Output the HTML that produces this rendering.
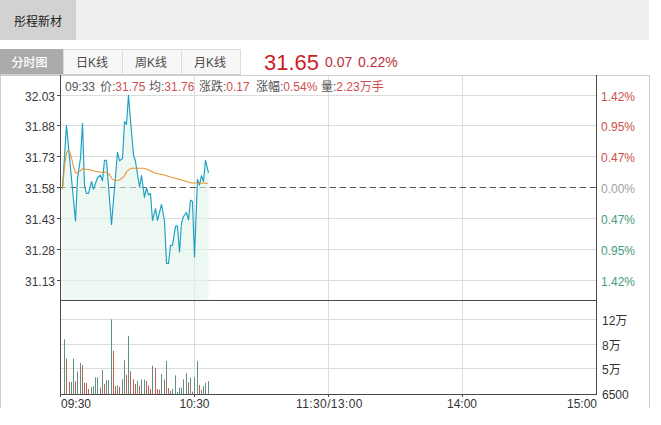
<!DOCTYPE html>
<html><head><meta charset="utf-8">
<style>
*{margin:0;padding:0;box-sizing:border-box}
html,body{width:661px;height:425px;background:#fff;overflow:hidden}
body{position:relative;font-family:"Liberation Sans","Noto Sans CJK SC",sans-serif;font-size:12px;color:#333}
.hdr{position:absolute;left:0;top:0;width:649px;height:40px;background:#efefef}
.stk{position:absolute;left:0;top:0;width:76px;height:40px;background:#d2d2d2;line-height:44px;text-align:center;color:#222;font-size:12px}
.tab{position:absolute;top:49px;height:26px;border:1px solid #dcdcdc;border-bottom-color:#cfcfcf;background:#f7f7f7;line-height:26px;text-align:center;color:#4a4a4a;padding-right:2px}
.tab.on{background:#ababab;color:#fff;font-weight:500;padding-right:4px;border-color:#ababab;border-bottom-color:#cfcfcf}
.box{position:absolute;left:0;top:75px;width:650px;height:333px;border:1px solid #cdcdcd;border-bottom:none}
.price{position:absolute;left:264px;top:49.5px;font-size:22px;color:#cc1f26;line-height:26px}
.chg{position:absolute;top:53px;font-size:14px;color:#b8323a;line-height:18px}
svg{position:absolute;left:0;top:0}
.info{position:absolute;top:79px;line-height:16px;color:#555;white-space:nowrap;word-spacing:1.5px}
.info .v{color:#cf5050}
.ll{position:absolute;right:606px;line-height:14px;color:#3a3a3a}
.rl{position:absolute;left:601px;line-height:14px}
.rl.r{color:#cc5148} .rl.z{color:#a0a0a0} .rl.g{color:#479b7a}
.vl{position:absolute;left:602px;line-height:14px;color:#333}
.tl{position:absolute;top:396px;line-height:16px;color:#333}
</style></head><body>
<div class="hdr"><div class="stk">彤程新材</div></div>
<div class="tab on" style="left:0;width:63px">分时图</div>
<div class="tab" style="left:63px;width:60px">日K线</div>
<div class="tab" style="left:122px;width:60px">周K线</div>
<div class="tab" style="left:181px;width:60px">月K线</div>
<div class="price">31.65</div>
<div class="chg" style="left:325px">0.07</div>
<div class="chg" style="left:358px">0.22%</div>
<div class="box"></div>
<svg width="661" height="425" viewBox="0 0 661 425" shape-rendering="auto">
<line x1="61" y1="95.5" x2="596" y2="95.5" stroke="#dcdcdc"/>
<line x1="61" y1="125.5" x2="596" y2="125.5" stroke="#dcdcdc"/>
<line x1="61" y1="156.5" x2="596" y2="156.5" stroke="#dcdcdc"/>
<line x1="61" y1="218.5" x2="596" y2="218.5" stroke="#dcdcdc"/>
<line x1="61" y1="249.5" x2="596" y2="249.5" stroke="#dcdcdc"/>
<line x1="61" y1="280.5" x2="596" y2="280.5" stroke="#dcdcdc"/>
<line x1="61" y1="319.5" x2="596" y2="319.5" stroke="#dcdcdc"/>
<line x1="61" y1="344.5" x2="596" y2="344.5" stroke="#dcdcdc"/>
<line x1="61" y1="368.5" x2="596" y2="368.5" stroke="#dcdcdc"/>
<line x1="194.5" y1="76" x2="194.5" y2="394" stroke="#dcdcdc"/>
<line x1="328.5" y1="76" x2="328.5" y2="394" stroke="#dcdcdc"/>
<line x1="462.5" y1="76" x2="462.5" y2="394" stroke="#dcdcdc"/>
<line x1="59.6" y1="187.5" x2="596" y2="187.5" stroke="#555" stroke-dasharray="6.5 3.5"/>
<polygon points="62.5,300.0 62.5,187.5 66.5,125.5 75.5,221.0 77.5,178.0 80.5,158.0 82.5,123.3 84.5,186.0 86.5,193.4 88.5,193.4 91.5,181.5 93.5,189.3 95.5,183.5 97.5,177.8 100.5,175.2 102.5,180.8 104.5,160.4 106.5,160.4 111.5,224.5 117.5,152.3 119.5,160.7 122.5,158.5 124.5,121.5 126.5,124.5 128.5,95.2 130.5,120.5 133.5,155.0 135.5,161.5 137.5,174.0 139.5,187.0 141.5,175.5 144.5,197.3 146.5,187.7 148.5,195.0 150.5,193.5 152.5,220.4 155.5,208.7 157.5,220.4 161.5,204.5 164.5,221.0 166.5,263.4 168.5,263.4 170.5,245.3 172.5,245.3 175.5,226.1 177.5,226.1 179.5,252.0 181.5,223.0 183.5,216.5 186.5,212.5 188.5,219.8 190.5,200.2 192.5,201.5 194.5,257.0 197.5,179.3 199.5,185.0 201.5,175.6 203.5,181.5 205.5,160.3 208.5,172.8 208.5,300.0" fill="#e1f3e9" fill-opacity="0.6"/>
<rect x="64" y="339.3" width="1" height="54.7" fill="#5f9082"/>
<rect x="66" y="358.7" width="1" height="35.3" fill="#bb5f58"/>
<rect x="69" y="382.0" width="1" height="12.0" fill="#bb5f58"/>
<rect x="71" y="382.0" width="1" height="12.0" fill="#5f9082"/>
<rect x="73" y="358.7" width="1" height="35.3" fill="#5f9082"/>
<rect x="75" y="381.2" width="1" height="12.8" fill="#bb5f58"/>
<rect x="77" y="371.6" width="1" height="22.4" fill="#5f9082"/>
<rect x="80" y="362.9" width="1" height="31.1" fill="#5f9082"/>
<rect x="82" y="365.3" width="1" height="28.7" fill="#bb5f58"/>
<rect x="84" y="382.7" width="1" height="11.3" fill="#bb5f58"/>
<rect x="86" y="383.0" width="1" height="11.0" fill="#bb5f58"/>
<rect x="88" y="388.9" width="1" height="5.1" fill="#bb5f58"/>
<rect x="91" y="387.0" width="1" height="7.0" fill="#5f9082"/>
<rect x="93" y="386.1" width="1" height="7.9" fill="#5f9082"/>
<rect x="95" y="377.3" width="1" height="16.7" fill="#5f9082"/>
<rect x="97" y="377.3" width="1" height="16.7" fill="#5f9082"/>
<rect x="100" y="387.7" width="1" height="6.3" fill="#bb5f58"/>
<rect x="102" y="369.8" width="1" height="24.2" fill="#5f9082"/>
<rect x="104" y="383.9" width="1" height="10.1" fill="#bb5f58"/>
<rect x="106" y="380.2" width="1" height="13.8" fill="#5f9082"/>
<rect x="108" y="380.2" width="1" height="13.8" fill="#5f9082"/>
<rect x="111" y="319.4" width="1" height="74.6" fill="#5f9082"/>
<rect x="113" y="350.9" width="1" height="43.1" fill="#bb5f58"/>
<rect x="115" y="386.2" width="1" height="7.8" fill="#bb5f58"/>
<rect x="117" y="385.4" width="1" height="8.6" fill="#5f9082"/>
<rect x="119" y="386.8" width="1" height="7.2" fill="#bb5f58"/>
<rect x="122" y="379.2" width="1" height="14.8" fill="#5f9082"/>
<rect x="124" y="360.3" width="1" height="33.7" fill="#5f9082"/>
<rect x="126" y="374.9" width="1" height="19.1" fill="#bb5f58"/>
<rect x="128" y="335.8" width="1" height="58.2" fill="#5f9082"/>
<rect x="130" y="371.1" width="1" height="22.9" fill="#bb5f58"/>
<rect x="133" y="379.2" width="1" height="14.8" fill="#bb5f58"/>
<rect x="135" y="383.9" width="1" height="10.1" fill="#bb5f58"/>
<rect x="137" y="380.8" width="1" height="13.2" fill="#5f9082"/>
<rect x="139" y="385.8" width="1" height="8.2" fill="#bb5f58"/>
<rect x="141" y="379.5" width="1" height="14.5" fill="#5f9082"/>
<rect x="144" y="379.7" width="1" height="14.3" fill="#5f9082"/>
<rect x="146" y="381.0" width="1" height="13.0" fill="#bb5f58"/>
<rect x="148" y="385.4" width="1" height="8.6" fill="#bb5f58"/>
<rect x="150" y="389.0" width="1" height="5.0" fill="#bb5f58"/>
<rect x="152" y="365.7" width="1" height="28.3" fill="#5f9082"/>
<rect x="155" y="368.3" width="1" height="25.7" fill="#bb5f58"/>
<rect x="157" y="389.0" width="1" height="5.0" fill="#bb5f58"/>
<rect x="159" y="389.7" width="1" height="4.3" fill="#bb5f58"/>
<rect x="161" y="374.0" width="1" height="20.0" fill="#5f9082"/>
<rect x="164" y="379.5" width="1" height="14.5" fill="#bb5f58"/>
<rect x="166" y="361.0" width="1" height="33.0" fill="#5f9082"/>
<rect x="168" y="388.0" width="1" height="6.0" fill="#bb5f58"/>
<rect x="170" y="391.0" width="1" height="3.0" fill="#bb5f58"/>
<rect x="172" y="389.0" width="1" height="5.0" fill="#5f9082"/>
<rect x="175" y="375.3" width="1" height="18.7" fill="#5f9082"/>
<rect x="177" y="392.0" width="1" height="2.0" fill="#5f9082"/>
<rect x="179" y="387.7" width="1" height="6.3" fill="#5f9082"/>
<rect x="181" y="387.7" width="1" height="6.3" fill="#5f9082"/>
<rect x="183" y="379.3" width="1" height="14.7" fill="#5f9082"/>
<rect x="186" y="373.2" width="1" height="20.8" fill="#5f9082"/>
<rect x="188" y="382.2" width="1" height="11.8" fill="#bb5f58"/>
<rect x="190" y="377.5" width="1" height="16.5" fill="#5f9082"/>
<rect x="192" y="391.6" width="1" height="2.4" fill="#bb5f58"/>
<rect x="194" y="377.5" width="1" height="16.5" fill="#5f9082"/>
<rect x="197" y="361.1" width="1" height="32.9" fill="#5f9082"/>
<rect x="199" y="385.0" width="1" height="9.0" fill="#bb5f58"/>
<rect x="201" y="389.8" width="1" height="4.2" fill="#bb5f58"/>
<rect x="203" y="386.1" width="1" height="7.9" fill="#5f9082"/>
<rect x="205" y="382.8" width="1" height="11.2" fill="#5f9082"/>
<rect x="208" y="381.1" width="1" height="12.9" fill="#5f9082"/>
<polyline points="62.5,187.5 66.5,125.5 75.5,221.0 77.5,178.0 80.5,158.0 82.5,123.3 84.5,186.0 86.5,193.4 88.5,193.4 91.5,181.5 93.5,189.3 95.5,183.5 97.5,177.8 100.5,175.2 102.5,180.8 104.5,160.4 106.5,160.4 111.5,224.5 117.5,152.3 119.5,160.7 122.5,158.5 124.5,121.5 126.5,124.5 128.5,95.2 130.5,120.5 133.5,155.0 135.5,161.5 137.5,174.0 139.5,187.0 141.5,175.5 144.5,197.3 146.5,187.7 148.5,195.0 150.5,193.5 152.5,220.4 155.5,208.7 157.5,220.4 161.5,204.5 164.5,221.0 166.5,263.4 168.5,263.4 170.5,245.3 172.5,245.3 175.5,226.1 177.5,226.1 179.5,252.0 181.5,223.0 183.5,216.5 186.5,212.5 188.5,219.8 190.5,200.2 192.5,201.5 194.5,257.0 197.5,179.3 199.5,185.0 201.5,175.6 203.5,181.5 205.5,160.3 208.5,172.8" fill="none" stroke="#1c9fc3" stroke-width="1.15" stroke-linejoin="round"/>
<polyline points="62.5,189.0 64.5,166.0 66.5,153.5 68.0,150.5 69.5,151.5 71.5,158.0 73.5,167.0 75.5,172.5 77.5,173.5 80.5,170.5 82.5,168.8 89.7,169.8 95.3,171.3 101.0,172.3 106.6,172.3 109.5,174.5 112.3,179.2 115.1,180.6 118.9,180.2 121.7,178.3 124.0,176.4 126.8,171.4 131.0,168.3 143.8,168.3 148.5,169.8 154.6,173.0 163.3,174.7 170.4,177.0 179.8,179.4 191.6,183.0 198.6,183.0 208.0,183.2" fill="none" stroke="#e8922e" stroke-width="1.05" stroke-linejoin="round"/>
<line x1="60.5" y1="75" x2="60.5" y2="397" stroke="#4a4a4a"/>
<line x1="596.5" y1="75" x2="596.5" y2="395" stroke="#4a4a4a"/>
<line x1="60" y1="300.5" x2="597" y2="300.5" stroke="#4a4a4a"/>
<line x1="60" y1="394.5" x2="597" y2="394.5" stroke="#4a4a4a"/>
<line x1="57" y1="95.5" x2="60" y2="95.5" stroke="#4a4a4a"/>
<line x1="57" y1="125.5" x2="60" y2="125.5" stroke="#4a4a4a"/>
<line x1="57" y1="156.5" x2="60" y2="156.5" stroke="#4a4a4a"/>
<line x1="57" y1="187.5" x2="60" y2="187.5" stroke="#4a4a4a"/>
<line x1="57" y1="218.5" x2="60" y2="218.5" stroke="#4a4a4a"/>
<line x1="57" y1="249.5" x2="60" y2="249.5" stroke="#4a4a4a"/>
<line x1="57" y1="280.5" x2="60" y2="280.5" stroke="#4a4a4a"/>
<line x1="194.5" y1="395" x2="194.5" y2="397" stroke="#4a4a4a"/>
<line x1="328.5" y1="395" x2="328.5" y2="397" stroke="#4a4a4a"/>
<line x1="462.5" y1="395" x2="462.5" y2="397" stroke="#4a4a4a"/>
</svg>
<div class="info" style="left:65px">09:33</div>
<div class="info" style="left:100px">价:<span class="v">31.75</span></div>
<div class="info" style="left:149px">均:<span class="v">31.76</span></div>
<div class="info" style="left:199px">涨跌:<span class="v">0.17</span></div>
<div class="info" style="left:256px">涨幅:<span class="v">0.54%</span></div>
<div class="info" style="left:321px">量:<span class="v">2.23万手</span></div>
<div class="ll" style="top:90px">32.03</div>
<div class="ll" style="top:120px">31.88</div>
<div class="ll" style="top:151px">31.73</div>
<div class="ll" style="top:182px">31.58</div>
<div class="ll" style="top:213px">31.43</div>
<div class="ll" style="top:244px">31.28</div>
<div class="ll" style="top:275px">31.13</div>
<div class="rl r" style="top:89.8px">1.42%</div>
<div class="rl r" style="top:119.8px">0.95%</div>
<div class="rl r" style="top:150.8px">0.47%</div>
<div class="rl z" style="top:181.8px">0.00%</div>
<div class="rl g" style="top:212.8px">0.47%</div>
<div class="rl g" style="top:243.8px">0.95%</div>
<div class="rl g" style="top:274.8px">1.42%</div>
<div class="vl" style="top:313.5px">12万</div>
<div class="vl" style="top:338.5px">8万</div>
<div class="vl" style="top:362.5px">5万</div>
<div class="vl" style="top:387.5px">6500</div>
<div class="tl" style="left:61px">09:30</div>
<div class="tl" style="left:179.5px">10:30</div>
<div class="tl" style="left:296px;letter-spacing:0.4px">11:30/13:00</div>
<div class="tl" style="left:447px">14:00</div>
<div class="tl" style="left:567px">15:00</div>
</body></html>
